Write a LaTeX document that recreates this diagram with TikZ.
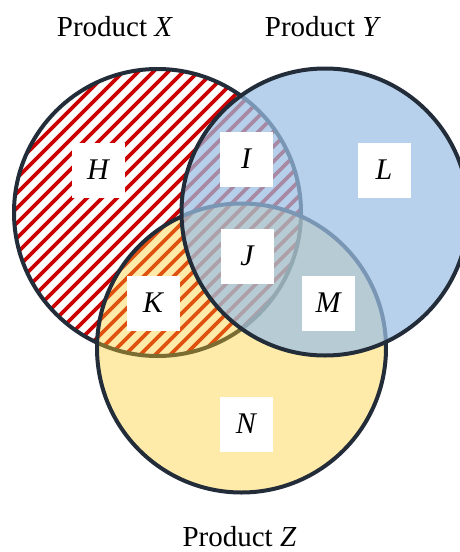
\documentclass[tikz,border=0pt]{standalone}
\usepackage{fontspec}
\setmainfont{Liberation Serif}
\definecolor{edgecol}{RGB}{35,45,58}
\definecolor{stripecol}{RGB}{204,0,0}
\definecolor{ycol}{RGB}{155,191,228}
\definecolor{zcol}{RGB}{255,205,40}
\tikzset{
  ring/.style={draw=edgecol, line width=4pt},
  lbox/.style={fill=white, minimum width=53pt, minimum height=55pt, inner sep=0pt, font=\fontsize{30}{34}\selectfont\itshape},
  ptitle/.style={anchor=base, inner sep=0pt, font=\fontsize{29}{34}\selectfont}
}
\begin{document}
\begin{tikzpicture}[x=1pt,y=-1pt]
\useasboundingbox (0,0) rectangle (459,552);
\coordinate (cx) at (157.5,212.5);
\coordinate (cy) at (325,212);
\coordinate (cz) at (241.5,348);
% circle X: white with red hatching
\fill[white] (cx) circle[radius=143.5pt];
\begin{scope}
  \clip (cx) circle[radius=143.5pt];
  \foreach \a in {-420,-405,...,420} {
    \draw[stripecol, line width=3.8pt] (\a,420) -- ++(420,-420);
  }
\end{scope}
\draw[ring] (cx) circle[radius=143.5pt];
% circle Z
\filldraw[ring, fill=zcol, fill opacity=0.4] (cz) circle[radius=144.5pt];
% circle Y
\filldraw[ring, fill=ycol, fill opacity=0.72] (cy) circle[radius=143.5pt];
% region labels
\node[lbox] (H) at (98,170) {H};
\node[lbox] (I) at (246,159) {I};
\node[lbox] (L) at (384,170) {L};
\node[lbox] (J) at (247,256) {J};
\node[lbox] (K) at (153,303) {K};
\node[lbox] (M) at (328,303) {M};
\node[lbox] (N) at (246,424) {N};
% titles
\node[ptitle] (tx) at (115,36) {Product \textit{X}};
\node[ptitle] (ty) at (323,36) {Product \textit{Y}};
\node[ptitle] (tz) at (239.5,546) {Product \textit{Z}};
\end{tikzpicture}
\end{document}
